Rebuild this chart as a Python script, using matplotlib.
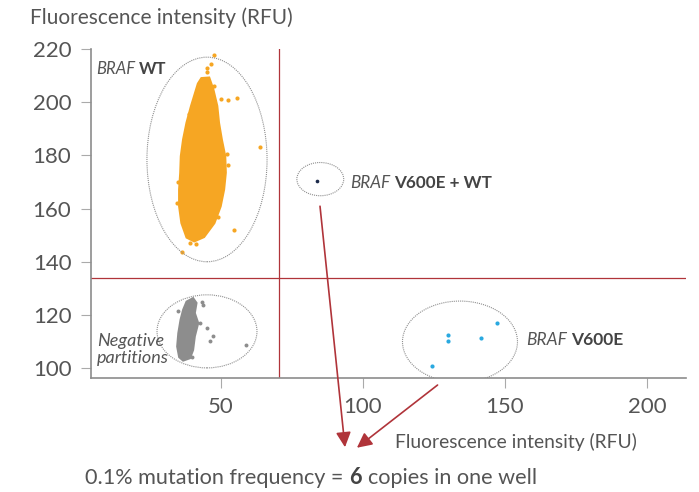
import matplotlib
matplotlib.use('Agg')
import matplotlib.pyplot as plt
from matplotlib.patches import Ellipse, Polygon

plt.rcParams['font.family'] = ['Lato', 'DejaVu Sans']

# WT droplets: outline of the dense core plus the stray droplets around it
wt_core_x = [43.2, 45.8, 47.2, 48.6, 49.2, 50.2, 51.4, 51.6, 51.0, 49.8, 47.6, 44.0,
             40.6, 38.0, 36.2, 35.4, 35.4, 35.8, 36.0, 36.8, 38.0, 39.6, 41.0, 42.0]
wt_core_y = [209.0, 209.2, 204.9, 198.6, 192.3, 186.0, 179.7, 173.5, 167.2, 160.9, 154.6, 149.4,
             147.8, 149.2, 154.6, 160.9, 167.2, 173.5, 179.7, 186.0, 192.3, 198.6, 203.5, 207.0]
wt_x = [47.5, 46.4, 45.0, 45.2, 50.2, 52.6, 55.5, 63.7, 54.6, 36.2, 39.1, 41.4, 52.2,
        52.4, 34.6, 35.0, 38.6, 47.4, 49.0]
wt_y = [217.8, 214.4, 213.1, 211.3, 201.4, 200.8, 201.6, 183.2, 152.1, 143.6, 147.1, 146.5, 180.4,
        176.5, 162.0, 170.0, 195.5, 206.0, 157.0]

# negative partitions
neg_core_x = [37.9, 40.2, 41.4, 40.8, 42.0, 40.8, 40.2, 39.1, 36.7, 35.3, 34.6, 35.0, 35.8, 36.7]
neg_core_y = [125.0, 126.3, 124.5, 120.7, 116.9, 111.9, 106.8, 103.7, 102.8, 104.1, 108.1, 113.1, 118.2, 121.9]
neg_x = [43.2, 43.8, 35.0, 42.6, 45.0, 47.1, 46.1, 59.0, 39.7]
neg_y = [124.8, 123.8, 121.3, 116.9, 115.0, 112.1, 110.3, 108.7, 104.3]

# mutant droplets
mut_x = [147.2, 129.9, 129.9, 141.5, 124.3]
mut_y = [117.0, 112.5, 110.2, 111.4, 100.8]

# double positive droplet
dbl_x = [84.0]
dbl_y = [170.3]

thr_x = 70.4
thr_y = 134.0
xticks = [50, 100, 150, 200]
yticks = [100, 120, 140, 160, 180, 200, 220]

TXT = '#555555'
RED = '#b0343a'
ORANGE = '#f6a623'
GREY = '#8d8d8d'
BLUE = '#2aa9e0'

fig = plt.figure(figsize=(6.99, 4.92), dpi=100)
ax = fig.add_axes([0.130, 0.232, 0.851, 0.668])

ax.add_patch(Polygon(list(zip(wt_core_x, wt_core_y)), closed=True, fc=ORANGE, ec=ORANGE, lw=2))
ax.scatter(wt_x, wt_y, s=9, c=ORANGE, lw=0)
ax.add_patch(Polygon(list(zip(neg_core_x, neg_core_y)), closed=True, fc=GREY, ec=GREY, lw=1.5))
ax.scatter(neg_x, neg_y, s=8, c=GREY, lw=0)
ax.scatter(mut_x, mut_y, s=9, c=BLUE, lw=0)
ax.scatter(dbl_x, dbl_y, s=7, c='#1b2a4a', lw=0)

# gates
for cx, cy, w, h in [(45.1, 178.5, 42.3, 77), (45.1, 113.8, 35.2, 27.5),
                     (85.0, 171.1, 16.5, 12.5), (134.2, 109.9, 40.5, 30.6)]:
    ax.add_patch(Ellipse((cx, cy), w, h, fill=False, ec='#8f8f8f', lw=0.8, ls=(0, (1.0, 0.9))))

ax.axvline(thr_x, color=RED, lw=0.9)
ax.axhline(thr_y, color=RED, lw=0.9)

ax.set_xlim(4.2, 213.7)
ax.set_ylim(96.3, 220)
ax.set_xticks(xticks)
ax.set_yticks(yticks)
for s in ['top', 'right']:
    ax.spines[s].set_visible(False)
for s in ['left', 'bottom']:
    ax.spines[s].set_color('#8c8c8c')
    ax.spines[s].set_linewidth(1.2)
ax.tick_params(length=7, width=0.8, color='#aaaaaa', labelsize=16, labelcolor=TXT, pad=7)


def label(x, y, parts, size, coords='data', va='center'):
    # pieces of text written one after another (italic / bold runs)
    t = None
    for txt, style, weight, color, gap in parts:
        if t is None:
            t = ax.annotate(txt, (x, y), xycoords=coords, fontsize=size, style=style,
                            fontweight=weight, color=color, va=va, ha='left', annotation_clip=False)
        else:
            t = ax.annotate(txt, (1, 0), xycoords=t, xytext=(gap, 0), textcoords='offset points',
                            fontsize=size, style=style, fontweight=weight, color=color,
                            va='bottom', ha='left', annotation_clip=False)
    return t


label(6.0, 212.5, [('BRAF', 'italic', 'normal', TXT, 0), ('WT', 'normal', 'bold', '#444444', 3)], 12)
label(95.4, 169.8, [('BRAF', 'italic', 'normal', TXT, 0),
                    ('V600E + WT', 'normal', 'bold', '#444444', 3)], 12.3)
label(157.4, 110.6, [('BRAF', 'italic', 'normal', TXT, 0), ('V600E', 'normal', 'bold', '#444444', 3)], 12.5)
ax.text(6.3, 107.0, 'Negative\npartitions', style='italic', fontsize=13, color=TXT,
        va='center', ha='left', linespacing=1.1)

arrow = dict(arrowstyle='-|>,head_length=0.9,head_width=0.45', color=RED, lw=1.2, shrinkA=0, shrinkB=0)
ax.annotate('', xy=(93.7, 70.2), xytext=(84.9, 160.9), arrowprops=arrow, annotation_clip=False)
ax.annotate('', xy=(97.9, 70.0), xytext=(126.3, 93.6), arrowprops=arrow, annotation_clip=False)

fig.text(30 / 699, 1 - 18 / 492, 'Fluorescence intensity (RFU)', fontsize=15, color=TXT, va='center')
fig.text(395 / 699, 1 - 442 / 492, 'Fluorescence intensity (RFU)', fontsize=13.9, color=TXT, va='center')

t1 = fig.text(85 / 699, 1 - 478 / 492, '0.1% mutation frequency =', fontsize=15.6, color=TXT, va='center')
t2 = ax.annotate('6', (1, 0), xycoords=t1, xytext=(4.5, 0), textcoords='offset points', fontsize=15.6,
                 fontweight='bold', color='#444444', va='bottom')
ax.annotate('copies in one well', (1, 0), xycoords=t2, xytext=(4.5, 0), textcoords='offset points',
            fontsize=15.6, color=TXT, va='bottom')

fig.savefig('out.png', dpi=100)
